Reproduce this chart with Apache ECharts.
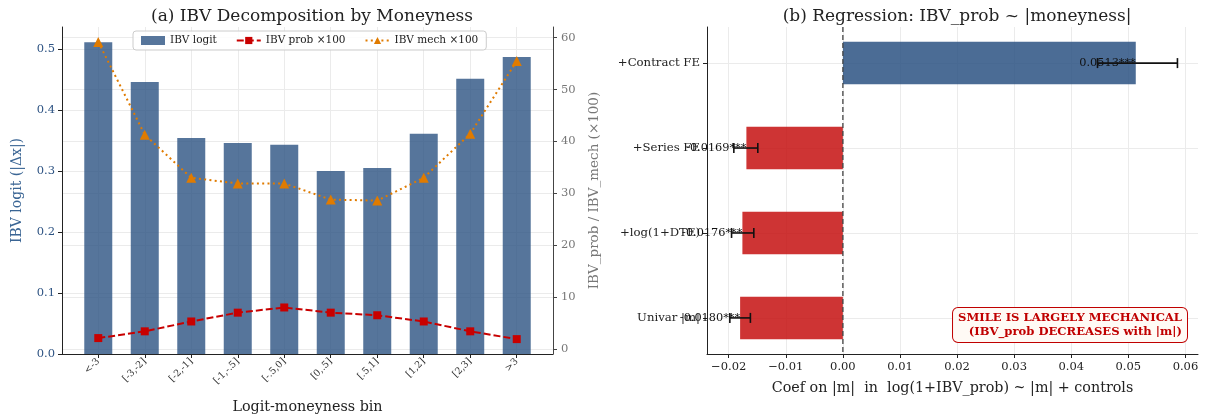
<!DOCTYPE html>
<html><head><meta charset="utf-8">
<script src="https://cdn.jsdelivr.net/npm/echarts@6/dist/echarts.min.js"></script>
<style>html,body{margin:0;padding:0;background:#fff}#c{width:1209px;height:417px}</style>
</head><body><div id="c"></div>
<script>
// ---- data ----
const bins = ['<-3','[-3,-2]','[-2,-1]','[-1,-.5]','[-.5,0]','[0,.5]','[.5,1]','[1,2]','[2,3]','>3'];
const ibvLogit = [0.511,0.446,0.354,0.346,0.343,0.300,0.305,0.361,0.451,0.487];
const ibvProb100 = [2.1,3.4,5.3,7.0,8.0,7.0,6.5,5.3,3.4,1.9];
const ibvMech100 = [59.2,41.3,33.0,31.9,31.9,28.8,28.6,33.0,41.5,55.5];
const leftTicks = [0,0.1,0.2,0.3,0.4,0.5];
const rightTicks = [0,10,20,30,40,50,60];
const binTicks = [0,1,2,3,4,5,6,7,8,9];

const models = ['Univar |m|','+log(1+DTE)','+Series FE','+Contract FE'];
const coefs = [-0.0180,-0.0176,-0.0169,0.0513];
const ciLo = [-0.0198,-0.0195,-0.0191,0.0446];
const ciHi = [-0.0162,-0.0156,-0.0149,0.0586];
const coefLabels = ['-0.0180***','-0.0176***','-0.0169***','0.0513***'];
const coefTicks = [-0.02,-0.01,0,0.01,0.02,0.03,0.04,0.05,0.06];
const modelTicks = [0,1,2,3];

const FONT = '"DejaVu Serif", "Liberation Serif", serif';
const GRID = '#ebebeb';

const chart = echarts.init(document.getElementById('c'), null, {renderer:'canvas'});

const option = {
  animation: false,
  backgroundColor: '#fff',
  textStyle: {fontFamily: FONT},
  title: [
    {text:'(a) IBV Decomposition by Moneyness', left:307, top:3, textAlign:'center',
     textStyle:{fontFamily:FONT, fontSize:17, fontWeight:'normal', color:'#222'}},
    {text:'(b) Regression: IBV_prob ~ |moneyness|', left:952, top:3, textAlign:'center',
     textStyle:{fontFamily:FONT, fontSize:17, fontWeight:'normal', color:'#222'}}
  ],
  legend: {
    left:133, top:31, itemWidth:24, itemHeight:9, itemGap:19,
    padding:[4,8], backgroundColor:'rgba(255,255,255,0.85)', borderColor:'#ccc', borderWidth:1, borderRadius:3,
    textStyle:{fontFamily:FONT, fontSize:10.5, color:'#222'},
    data:[{name:'IBV logit', icon:'rect'}, {name:'IBV prob ×100'}, {name:'IBV mech ×100'}]
  },
  grid: [
    {left:62, top:27, width:491, height:327, outerBoundsMode:'none', containLabel:false},
    {left:707, top:27, width:491, height:327, outerBoundsMode:'none', containLabel:false}
  ],
  xAxis: [
    {type:'value', gridIndex:0, min:-0.78, max:9.78,
     axisLine:{show:true, onZero:false, lineStyle:{color:'#222', width:1}},
     axisTick:{show:true, customValues:binTicks, length:4, lineStyle:{color:'#222'}},
     axisLabel:{customValues:binTicks, formatter:v=>bins[Math.round(v)], rotate:45, fontSize:9.5, color:'#333', margin:6, fontFamily:FONT},
     splitLine:{show:true, lineStyle:{color:GRID, width:1}},
     name:'Logit-moneyness bin', nameLocation:'middle', nameGap:46,
     nameTextStyle:{fontFamily:FONT, fontSize:14.3, color:'#222'}},
    {type:'value', gridIndex:1, min:-0.0238, max:0.0622,
     axisLine:{show:true, onZero:false, lineStyle:{color:'#222', width:1}},
     axisTick:{show:true, customValues:coefTicks, length:4, lineStyle:{color:'#222'}},
     axisLabel:{customValues:coefTicks, formatter:v=>(v<-1e-9?'\u2212':'')+Math.abs(v).toFixed(2), fontSize:11.5, color:'#222', margin:7, fontFamily:FONT},
     splitLine:{show:true, lineStyle:{color:GRID, width:1}},
     name:'Coef on |m|  in  log(1+IBV_prob) ~ |m| + controls', nameLocation:'middle', nameGap:27,
     nameTextStyle:{fontFamily:FONT, fontSize:14.3, color:'#222'}}
  ],
  yAxis: [
    {type:'value', gridIndex:0, position:'left', min:0, max:0.536,
     axisLine:{show:true, onZero:false, lineStyle:{color:'#222', width:1}},
     axisTick:{show:true, customValues:leftTicks, length:4, lineStyle:{color:'#222'}},
     axisLabel:{customValues:leftTicks, formatter:v=>v.toFixed(1), fontSize:11.5, color:'#2c5282', margin:7, fontFamily:FONT},
     splitLine:{show:true, lineStyle:{color:GRID, width:1}},
     name:'IBV logit (|Δx|)', nameLocation:'middle', nameGap:38,
     nameTextStyle:{fontFamily:FONT, fontSize:14, color:'#3a6594'}},
    {type:'value', gridIndex:0, position:'right', min:-0.97, max:62.07,
     axisLine:{show:true, onZero:false, lineStyle:{color:'#444', width:1}},
     axisTick:{show:true, customValues:rightTicks, length:4, lineStyle:{color:'#444'}},
     axisLabel:{customValues:rightTicks, formatter:v=>String(v), fontSize:11.5, color:'#777', margin:8, fontFamily:FONT},
     splitLine:{show:true, lineStyle:{color:GRID, width:1}},
     name:'IBV_prob / IBV_mech (×100)', nameLocation:'middle', nameGap:34, nameRotate:90,
     nameTextStyle:{fontFamily:FONT, fontSize:13.5, color:'#777'}},
    {type:'value', gridIndex:1, min:-0.425, max:3.425,
     axisLine:{show:true, onZero:false, lineStyle:{color:'#222', width:1}},
     axisTick:{show:true, customValues:modelTicks, length:4, lineStyle:{color:'#222'}},
     axisLabel:{customValues:modelTicks, formatter:v=>models[Math.round(v)], fontSize:11.7, color:'#222', margin:7, fontFamily:FONT},
     splitLine:{show:true, lineStyle:{color:GRID, width:1}}}
  ],
  series: [
    {name:'IBV logit', type:'bar', xAxisIndex:0, yAxisIndex:0, barWidth:28,
     itemStyle:{color:'#2c5282', opacity:0.8},
     data: ibvLogit.map((v,i)=>[i,v])},
    {name:'IBV prob ×100', type:'line', xAxisIndex:0, yAxisIndex:1,
     symbol:'rect', symbolSize:8, itemStyle:{color:'#c80000'},
     lineStyle:{color:'#c80000', width:2, type:[7,3]},
     data: ibvProb100.map((v,i)=>[i,v]), z:3},
    {name:'IBV mech ×100', type:'line', xAxisIndex:0, yAxisIndex:1,
     symbol:'triangle', symbolSize:10, itemStyle:{color:'#e07b00'},
     lineStyle:{color:'#e07b00', width:2, type:[2,3.3]},
     data: ibvMech100.map((v,i)=>[i,v]), z:3},
    // regression bars
    {type:'custom', xAxisIndex:1, yAxisIndex:2,
     data: coefs.map((v,i)=>[v,i]), encode:{x:0,y:1},
     renderItem:(params, api)=>{
       const v = api.value(0), i = api.value(1);
       const p0 = api.coord([0,i]), p1 = api.coord([v,i]);
       const h = api.size([0,0.5])[1];
       return {type:'rect', shape:{x:Math.min(p0[0],p1[0]), y:p0[1]-h/2, width:Math.abs(p1[0]-p0[0]), height:h},
               style:{fill: v>0 ? '#2c5282' : '#c61111', opacity:0.85}};
     }},
    // zero line
    {type:'custom', xAxisIndex:1, yAxisIndex:2, data:[[0,0]], encode:{x:0,y:1}, z:4,
     renderItem:(params, api)=>{
       const cs = params.coordSys;
       const x = api.coord([0,0])[0];
       return {type:'line', shape:{x1:x, y1:cs.y, x2:x, y2:cs.y+cs.height},
               style:{stroke:'#444', lineWidth:1.3, lineDash:[5,3]}};
     }},
    // coefficient labels
    {type:'custom', xAxisIndex:1, yAxisIndex:2, z:5,
     data: coefs.map((v,i)=>[v,i]), encode:{x:0,y:1},
     renderItem:(params, api)=>{
       const p = api.coord([api.value(0), api.value(1)]);
       return {type:'text', x:p[0], y:p[1],
               style:{text:coefLabels[params.dataIndex], align:'right', verticalAlign:'middle',
                      font:'11.3px ' + FONT, fill:'#111'}};
     }},
    // error bars
    {type:'custom', xAxisIndex:1, yAxisIndex:2, z:6,
     data: coefs.map((v,i)=>[ciLo[i], i, ciHi[i]]), encode:{x:[0,2],y:1},
     renderItem:(params, api)=>{
       const a = api.coord([api.value(0), api.value(1)]);
       const b = api.coord([api.value(2), api.value(1)]);
       const c = 5, st = {stroke:'#111', lineWidth:1.6};
       return {type:'group', children:[
         {type:'line', shape:{x1:a[0], y1:a[1], x2:b[0], y2:b[1]}, style:st},
         {type:'line', shape:{x1:a[0], y1:a[1]-c, x2:a[0], y2:a[1]+c}, style:st},
         {type:'line', shape:{x1:b[0], y1:b[1]-c, x2:b[0], y2:b[1]+c}, style:st}
       ]};
     }}
  ],
  graphic: [
    {type:'text', x:1187, y:325, z:100,
     style:{text:'SMILE IS LARGELY MECHANICAL\n(IBV_prob DECREASES with |m|)', align:'right', verticalAlign:'middle',
            font:'bold 11.6px ' + FONT, fill:'#c00000', lineHeight:14,
            backgroundColor:'#fffaf5', borderColor:'#c00000', borderWidth:1, borderRadius:5, padding:[3,5,3,5]}}
  ]
};
chart.setOption(option);
</script>
</body></html>
